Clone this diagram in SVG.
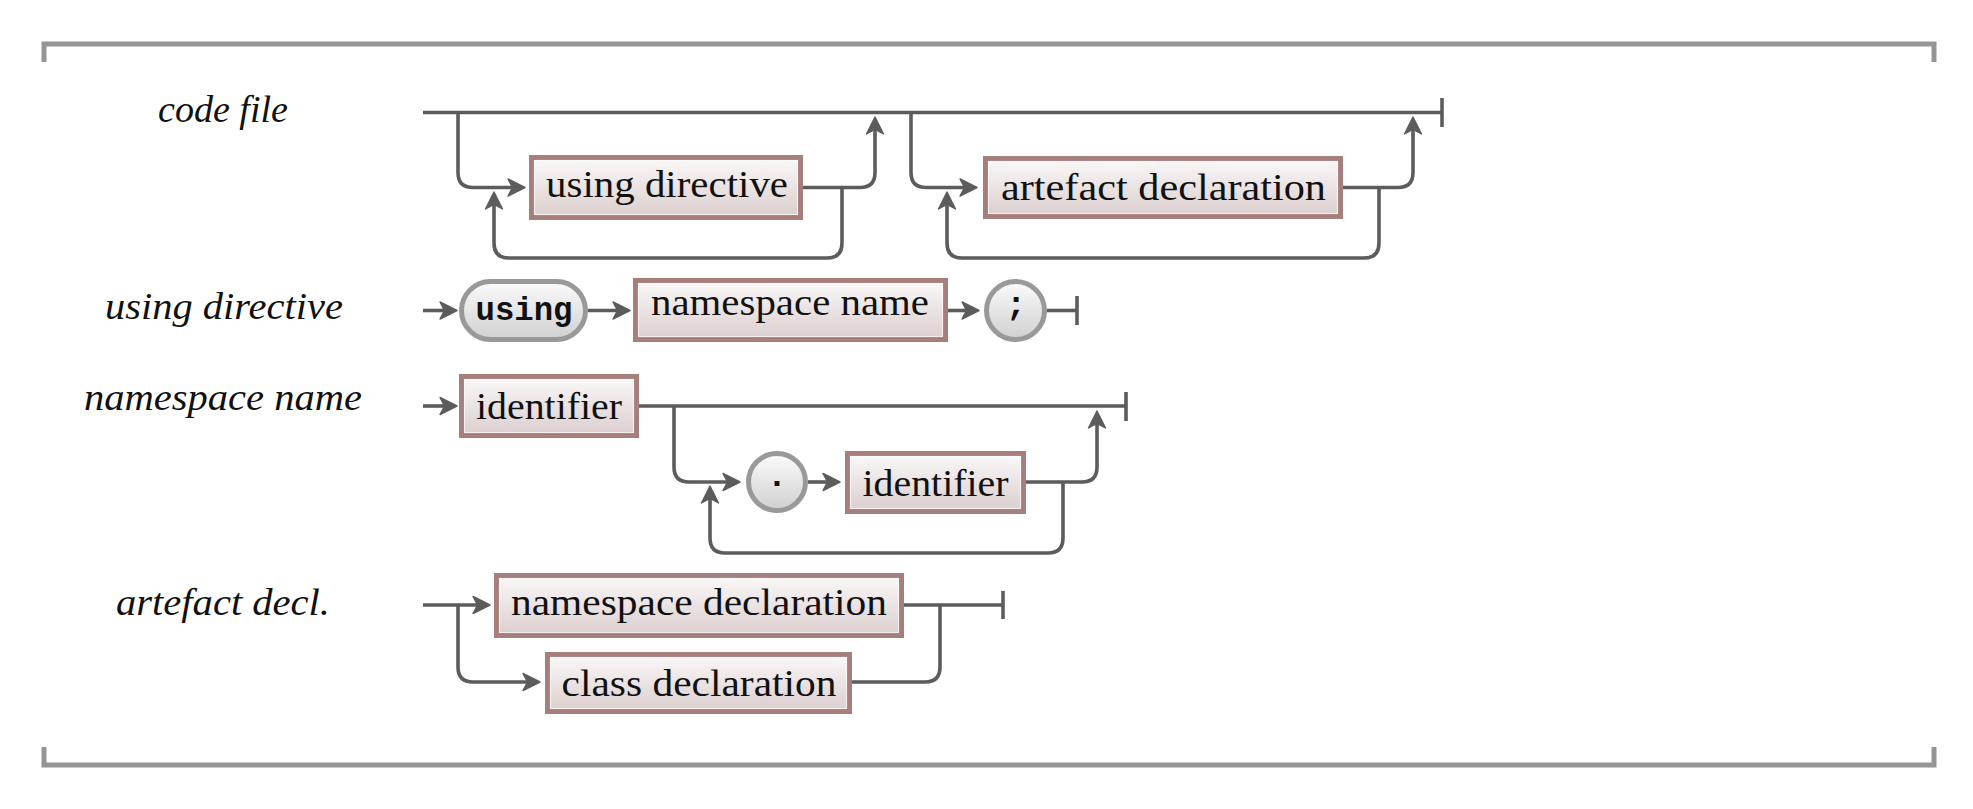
<svg xmlns="http://www.w3.org/2000/svg" width="1973" height="809" viewBox="0 0 1973 809">
  <style>
    .frame { fill: none; stroke: #959595; stroke-width: 5; }
    .track { fill: none; stroke: #5c5c5c; stroke-width: 3.6; }
    .arr { marker-end: url(#ah); }
    .nt { fill: url(#gNt); stroke: #a67e7c; stroke-width: 5; }
    .ntin { fill: none; stroke: #ffffff; stroke-opacity: 0.65; stroke-width: 1.2; }
    .tm { fill: url(#gTm); stroke: #999999; stroke-width: 5; }
    .txt { font-family: 'Liberation Serif', 'Times New Roman', serif; font-size: 38px; fill: #111111; text-anchor: middle; }
    .lbl { font-family: 'Liberation Serif', 'Times New Roman', serif; font-style: italic; font-size: 37px; fill: #111111; text-anchor: middle; }
    .tt { font-family: 'Liberation Mono', 'Courier New', monospace; font-weight: bold; font-size: 34px; fill: #111111; text-anchor: middle; }
  </style>
  <defs>
    <linearGradient id="gNt" x1="0" y1="0" x2="0" y2="1">
      <stop offset="0" stop-color="#fbf9f9"/>
      <stop offset="1" stop-color="#dbcdcd"/>
    </linearGradient>
    <linearGradient id="gTm" x1="0" y1="0" x2="0" y2="1">
      <stop offset="0" stop-color="#fbfbfb"/>
      <stop offset="1" stop-color="#d0d0d0"/>
    </linearGradient>
    <marker id="ah" markerUnits="userSpaceOnUse" markerWidth="24" markerHeight="24" viewBox="-20 -12 24 24" refX="-6" refY="0" orient="auto" overflow="visible">
      <path d="M0,0 L-17,-8.5 L-12.5,0 L-17,8.5 Z" fill="#5c5c5c" stroke="#5c5c5c" stroke-width="1.4" stroke-linejoin="round"/>
    </marker>
  </defs>

  <rect x="0" y="0" width="1973" height="809" fill="#ffffff"/>

  <g id="frame">
    <path class="frame" d="M44,62 V44 H1934 V62"/>
    <path class="frame" d="M44,747 V765 H1934 V747"/>
  </g>

  <g id="labels">
    <text id="lbl-code-file" class="lbl" x="223" y="122" textLength="130" lengthAdjust="spacingAndGlyphs">code file</text>
    <text id="lbl-using-directive" class="lbl" x="224" y="319" textLength="238" lengthAdjust="spacingAndGlyphs">using directive</text>
    <text id="lbl-namespace-name" class="lbl" x="223" y="410" textLength="278" lengthAdjust="spacingAndGlyphs">namespace name</text>
    <text id="lbl-artefact-decl" class="lbl" x="223" y="615" textLength="214" lengthAdjust="spacingAndGlyphs">artefact decl.</text>
  </g>

  <g id="connectors">
    <!-- code file -->
    <path class="track" d="M423,112.5 H1442"/>
    <path class="track" d="M1442,98 V127"/>
    <path class="track arr" d="M458,112.5 V172.5 Q458,187.5 473,187.5 H519"/>
    <path class="track arr" d="M803,187.5 H860 Q875,187.5 875,172.5 V123"/>
    <path class="track arr" d="M842,187.5 V243 Q842,258 827,258 H509 Q494,258 494,243 V198"/>
    <path class="track arr" d="M911,112.5 V172.5 Q911,187.5 926,187.5 H971"/>
    <path class="track arr" d="M1343,187.5 H1398 Q1413,187.5 1413,172.5 V123"/>
    <path class="track arr" d="M1379,187.5 V243 Q1379,258 1364,258 H962 Q947,258 947,243 V198"/>
    <!-- using directive -->
    <path class="track arr" d="M423,310.5 H451"/>
    <path class="track arr" d="M588,310.5 H624"/>
    <path class="track arr" d="M948,310.5 H973"/>
    <path class="track" d="M1047,310.5 H1077"/>
    <path class="track" d="M1077,296 V325"/>
    <!-- namespace name -->
    <path class="track arr" d="M423,406 H451"/>
    <path class="track" d="M639,406 H1126"/>
    <path class="track" d="M1126,392 V421"/>
    <path class="track arr" d="M674,406 V467 Q674,482 689,482 H734"/>
    <path class="track arr" d="M808,482 H834"/>
    <path class="track arr" d="M1026,482 H1082 Q1097,482 1097,467 V417"/>
    <path class="track arr" d="M1063,482 V538 Q1063,553 1048,553 H725 Q710,553 710,538 V492"/>
    <!-- artefact decl. -->
    <path class="track arr" d="M423,605 H484"/>
    <path class="track" d="M904,605 H1003"/>
    <path class="track" d="M1003,591 V619"/>
    <path class="track arr" d="M458,605 V667 Q458,682 473,682 H534"/>
    <path class="track" d="M852,682 H925 Q940,682 940,667 V605"/>
  </g>

  <g id="node-using-directive">
    <rect class="nt" x="531.5" y="157.5" width="269" height="60"/>
    <rect class="ntin" x="534.5" y="160.5" width="263" height="54"/>
    <text class="txt" x="667" y="197" textLength="242" lengthAdjust="spacingAndGlyphs">using directive</text>
  </g>

  <g id="node-artefact-declaration">
    <rect class="nt" x="985.5" y="158.5" width="355" height="58"/>
    <rect class="ntin" x="988.5" y="161.5" width="349" height="52"/>
    <text class="txt" x="1163.5" y="200" textLength="325" lengthAdjust="spacingAndGlyphs">artefact declaration</text>
  </g>

  <g id="node-using-keyword">
    <rect class="tm" x="461.5" y="281.5" width="124" height="58" rx="29" ry="29"/>
    <text class="tt" x="524" y="320" textLength="97" lengthAdjust="spacingAndGlyphs">using</text>
  </g>

  <g id="node-namespace-name">
    <rect class="nt" x="635.5" y="280.5" width="310" height="59"/>
    <rect class="ntin" x="638.5" y="283.5" width="304" height="53"/>
    <text class="txt" x="790" y="315" textLength="278" lengthAdjust="spacingAndGlyphs">namespace name</text>
  </g>

  <g id="node-semicolon">
    <circle class="tm" cx="1015.5" cy="310.5" r="29"/>
    <text class="tt" x="1016" y="315">;</text>
  </g>

  <g id="node-identifier-1">
    <rect class="nt" x="461.5" y="376.5" width="175" height="59"/>
    <rect class="ntin" x="464.5" y="379.5" width="169" height="53"/>
    <text class="txt" x="549" y="419" textLength="146" lengthAdjust="spacingAndGlyphs">identifier</text>
  </g>

  <g id="node-dot">
    <circle class="tm" cx="777" cy="482" r="28.5"/>
    <text class="tt" x="777" y="486">.</text>
  </g>

  <g id="node-identifier-2">
    <rect class="nt" x="847.5" y="453.5" width="176" height="58"/>
    <rect class="ntin" x="850.5" y="456.5" width="170" height="52"/>
    <text class="txt" x="935.5" y="495.5" textLength="146" lengthAdjust="spacingAndGlyphs">identifier</text>
  </g>

  <g id="node-namespace-declaration">
    <rect class="nt" x="496.5" y="575.5" width="405" height="60"/>
    <rect class="ntin" x="499.5" y="578.5" width="399" height="54"/>
    <text class="txt" x="699" y="615" textLength="376" lengthAdjust="spacingAndGlyphs">namespace declaration</text>
  </g>

  <g id="node-class-declaration">
    <rect class="nt" x="547.5" y="654.5" width="302" height="57"/>
    <rect class="ntin" x="550.5" y="657.5" width="296" height="51"/>
    <text class="txt" x="699" y="696" textLength="275" lengthAdjust="spacingAndGlyphs">class declaration</text>
  </g>
</svg>
